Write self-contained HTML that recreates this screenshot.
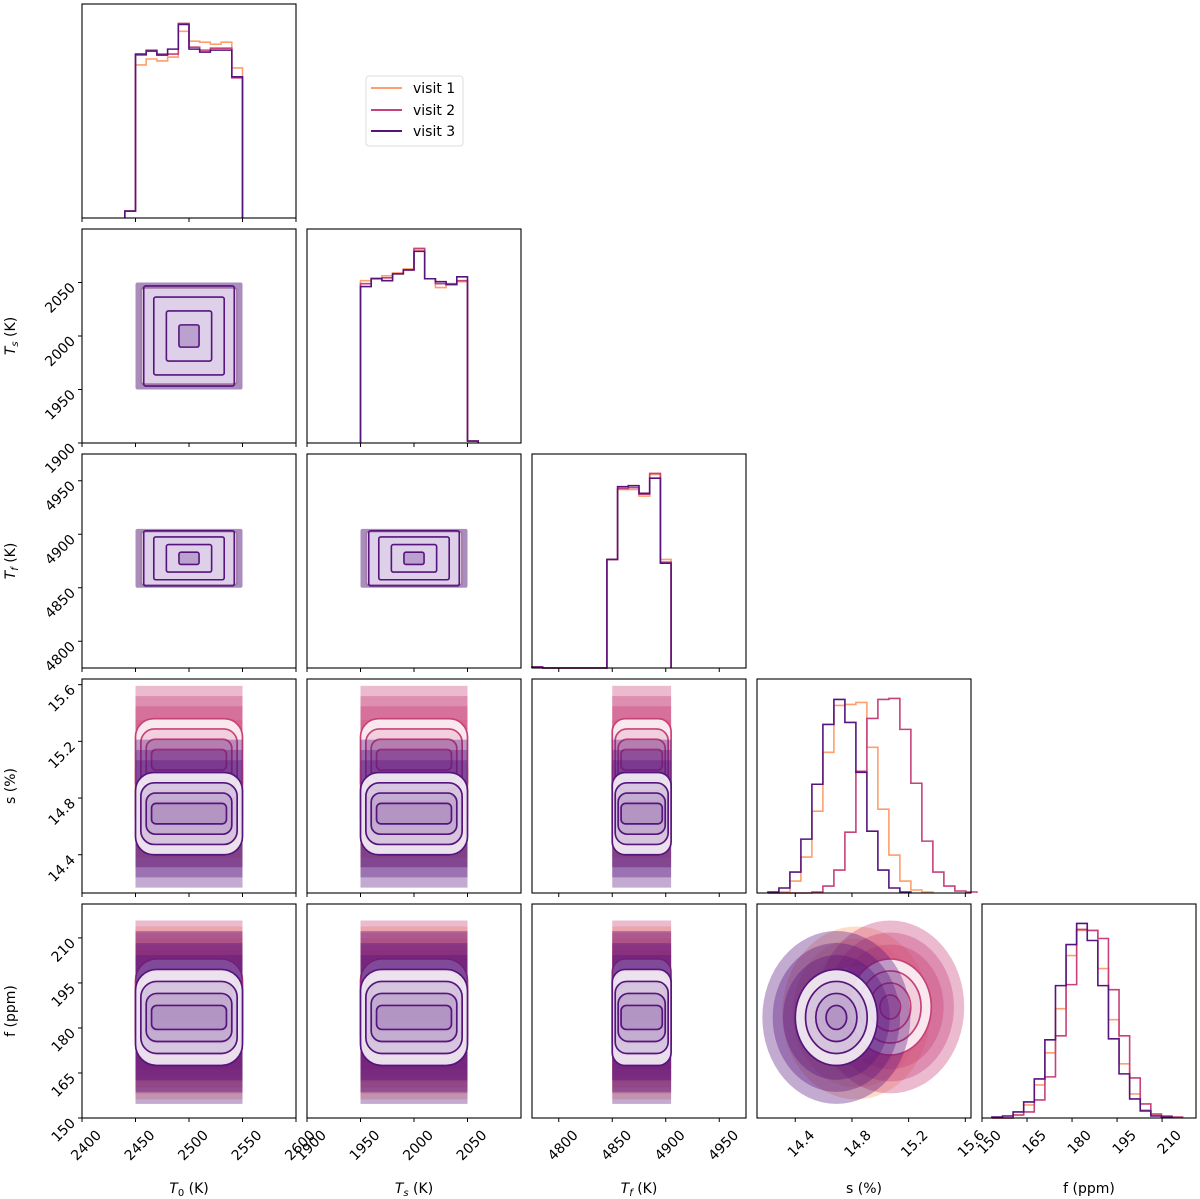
<!DOCTYPE html>
<html><head><meta charset="utf-8"><style>
html,body{margin:0;padding:0;background:#fff;}
svg{display:block;font-family:"DejaVu Sans","Liberation Sans",sans-serif;}
</style></head><body>
<svg id="fig" width="1200" height="1199" viewBox="0 0 1200 1199" xmlns="http://www.w3.org/2000/svg">
<defs id="defs"></defs>
<g id="legend">
  <rect x="366" y="76" width="97" height="70" rx="3" fill="#fff" stroke="#ddd" stroke-width="1"/>
  <line x1="371" y1="88" x2="402" y2="88" stroke="#fe9f6d" stroke-width="2"/>
  <text x="413" y="93" font-size="14">visit 1</text>
  <line x1="371" y1="110" x2="402" y2="110" stroke="#c7417b" stroke-width="2"/>
  <text x="413" y="115" font-size="14">visit 2</text>
  <line x1="371" y1="131" x2="402" y2="131" stroke="#56147d" stroke-width="2"/>
  <text x="413" y="136" font-size="14">visit 3</text>
</g>
</svg>
<script>
// ---- data ----
const visitNames = ['visit 1','visit 2','visit 3'];
const visitColors = ['#fe9f6d','#c7417b','#56147d'];
const varNames = ['T0','Ts','Tf','s','f'];
const rangeMin = [2400,1900,4775,14.13,150];
const rangeMax = [2600,2100,4975,15.64,221.3];
const ticksT0 = [2400,2450,2500,2550,2600];
const ticksTs = [1900,1950,2000,2050];
const ticksTf = [4800,4850,4900,4950];
const ticksS = [14.4,14.8,15.2,15.6];
const ticksF = [150,165,180,195,210];
// uniform priors (low, high)
const uniLow = [2450,1950,4850];
const uniHigh = [2550,2050,4905];
// gaussian posteriors per visit
const sMean = [14.83,15.07,14.69];
const sSigma = [0.145,0.145,0.145];
const fMean = [185,187,183.5];
const fSigma = [8.0,8.0,8.0];
// histograms: bin start, bin width, counts per visit
const histStart = [2440,1950,4775,14.207,153.3];
const histWidth = [10,10,10,0.0776,3.53];
const histT0 = [
  [7,155,161,159,163,189,179,178,176,178,152],
  [7,165,170,166,166,197,173,170,172,172,142],
  [7,166,169,165,171,196,171,168,170,170,143]];
const histTs = [
  [166,169,171,174,178,197,168,159,162,165,2],
  [163,168,169,173,177,199,168,163,163,166,2],
  [160,168,166,173,177,196,168,165,162,170,2]];
const histTf = [
  [1,0,0,0,0,0,0,115,189,189,182,205,115],
  [1,0,0,0,0,0,0,115,190,191,184,206,112],
  [1,0,0,0,0,0,0,115,192,193,185,201,111]];
const histS = [
  [0,1,12,36,82,141,188,189,191,146,84,38,12,3,1],
  [0,0,0,0,1,7,23,61,122,175,194,195,164,110,52,21,7,2,1],
  [1,5,21,54,109,169,194,171,121,62,23,5,1]];
const histF = [
  [0,0,3,13,33,65,109,162,187,187,149,98,54,24,8,3,1],
  [0,0,3,6,18,41,82,133,188,187,179,128,82,40,14,4,2,1],
  [1,2,6,16,39,78,132,173,194,177,132,79,44,19,7,2,1]];
const allHists = [histT0,histTs,histTf,histS,histF];
const allTicks = [ticksT0,ticksTs,ticksTf,ticksS,ticksF];

// ---- layout ----
const colX = [82,307,532,757,982], rowY = [4,229,454,679,904], P = 214;
const NS = 'http://www.w3.org/2000/svg';
const svg = document.getElementById('fig');
const defs = document.getElementById('defs');
function E(tag){ return document.createElementNS(NS, tag); }
function sx(v, j){ return colX[j] + (v - rangeMin[j])/(rangeMax[j]-rangeMin[j])*P; }
function sy(v, i){ return rowY[i] + P - (v - rangeMin[i])/(rangeMax[i]-rangeMin[i])*P; }
function fmt(v){ return Number.isInteger(v) ? String(v) : v.toFixed(1); }

// ---- diagonal histograms ----
for (let k=0;k<5;k++){
  const g = E('g');
  
  
  svg.appendChild(g);
  const h = allHists[k];
  let mx = 0; h.forEach(a=>a.forEach(c=>{ if(c>mx) mx=c; }));
  const ymax = mx*1.1;
  const base = rowY[k]+P;
  for (let v=0; v<3; v++){
    const counts = h[v];
    let d = '';
    for (let b=0;b<counts.length;b++){
      const x0 = sx(histStart[k]+b*histWidth[k], k), x1 = sx(histStart[k]+(b+1)*histWidth[k], k);
      const y = base - counts[b]/ymax*P;
      d += (b===0 ? 'M'+x0+','+base+' L'+x0+','+y : ' L'+x0+','+y) + ' L'+x1+','+y;
      if (b===counts.length-1) d += ' L'+x1+','+base;
    }
    const p = E('path');
    
    
    p.setAttribute('d', d);
    p.setAttribute('fill', 'none');
    p.setAttribute('stroke', visitColors[v]);
    p.setAttribute('stroke-width', '1.6');
    g.appendChild(p);
  }
}

// ---- 2D panels ----
function distOf(varIdx, v){
  if (varIdx<3) return {type:'u', lo:uniLow[varIdx], hi:uniHigh[varIdx]};
  if (varIdx===3) return {type:'g', mu:sMean[v], sd:sSigma[v]};
  return {type:'g', mu:fMean[v], sd:fSigma[v]};
}
function extent(dist, k, frac){
  if (dist.type==='u'){ const c=(dist.lo+dist.hi)/2, hw=(dist.hi-dist.lo)/2*frac; return [c-hw,c+hw]; }
  return [dist.mu-k*dist.sd, dist.mu+k*dist.sd];
}
let clipId = 0;
for (let i=1;i<5;i++){
  for (let j=0;j<i;j++){
    const cp = E('clipPath'); cp.setAttribute('id','c'+clipId);
    const cr = E('rect'); cr.setAttribute('x',colX[j]); cr.setAttribute('y',rowY[i]); cr.setAttribute('width',P); cr.setAttribute('height',P);
    cp.appendChild(cr); defs.appendChild(cp);
    const g = E('g');
    
    
    g.setAttribute('clip-path','url(#c'+clipId+')');
    clipId++;
    svg.appendChild(g);
    const bothU = (i<3 && j<3);
    for (let v=0; v<3; v++){
      const dx = distOf(j,v), dy = distOf(i,v);
      const col = visitColors[v];
      const shape = (xr, yr, fill, op, stroke, sw) => {
        const x0=sx(xr[0],j), x1=sx(xr[1],j), y0=sy(yr[1],i), y1=sy(yr[0],i);
        const w=x1-x0, h=y1-y0;
        let el;
        if (dx.type==='g' && dy.type==='g'){
          el = E('ellipse');
          el.setAttribute('cx',(x0+x1)/2); el.setAttribute('cy',(y0+y1)/2);
          el.setAttribute('rx',w/2); el.setAttribute('ry',h/2);
        } else {
          el = E('rect');
          el.setAttribute('x',x0); el.setAttribute('y',y0); el.setAttribute('width',w); el.setAttribute('height',h);
          const r = bothU ? 2 : Math.min(w,h)*0.22;
          el.setAttribute('rx', r);
        }
        el.setAttribute('fill', fill); el.setAttribute('fill-opacity', op);
        if (stroke){ el.setAttribute('stroke', stroke); el.setAttribute('stroke-width', sw); } else el.setAttribute('stroke','none');
        return el;
      };
      if (bothU){
        if (v===2){
          const bg = shape(extent(dx,0,1), extent(dy,0,1), '#9a7ab2', 0.85);
          
          
          g.appendChild(bg);
          const inner = shape(extent(dx,0,0.88), extent(dy,0,0.88), '#ddd0e8', 1);
          
          
          g.appendChild(inner);
        }
        [0.9,0.7,0.45,0.2].forEach((fr,li)=>{
          const c = shape(extent(dx,0,fr*(1-0.03*v)), extent(dy,0,fr*(1+0.02*v)), col, li===3?0.25:0, col, 1.6);
          
          
          g.appendChild(c);
        });
      } else {
        [3.6,3.1,2.6].forEach(k=>{
          const fx = dx.type==='u' ? extent(dx,k,1) : extent(dx,k);
          const fy = dy.type==='u' ? extent(dy,k,1) : extent(dy,k);
          const s = shape(fx, fy, col, 0.36);
          if (dx.type==='u' || dy.type==='u') s.setAttribute('rx', 0);
          
          
          g.appendChild(s);
        });
        const levels = [2.0,1.5,1.0,0.5];
        levels.forEach((k,li)=>{
          const fr = 1.0 - 0.1*li;
          const fx = dx.type==='u' ? extent(dx,k,fr) : extent(dx,k);
          const fy = dy.type==='u' ? extent(dy,k,fr) : extent(dy,k);
          const c = shape(fx, fy, li===0 ? '#ffffff' : col, li===0 ? 0.85 : 0.14, col, 1.7);
          
          
          g.appendChild(c);
        });
      }
    }
  }
}

// ---- frames, ticks, labels ----
for (let i=0;i<5;i++){
  for (let j=0;j<=i;j++){
    const fr = E('rect');
    
    
    fr.setAttribute('x',colX[j]); fr.setAttribute('y',rowY[i]); fr.setAttribute('width',P); fr.setAttribute('height',P);
    fr.setAttribute('fill','none'); fr.setAttribute('stroke','#000'); fr.setAttribute('stroke-width','1.1');
    svg.appendChild(fr);
    allTicks[j].forEach(t=>{
      const x = sx(t,j);
      const tk = E('line');
      
      
      tk.setAttribute('x1',x); tk.setAttribute('x2',x); tk.setAttribute('y1',rowY[i]+P); tk.setAttribute('y2',rowY[i]+P+4);
      tk.setAttribute('stroke','#000'); tk.setAttribute('stroke-width','1');
      svg.appendChild(tk);
      if (i===4){
        const tx = E('text');
        
        
        tx.setAttribute('font-size','14');
        tx.setAttribute('text-anchor','end');
        tx.setAttribute('transform','translate('+(x+20)+','+(rowY[i]+P+18)+') rotate(-45)');
        tx.textContent = fmt(t);
        svg.appendChild(tx);
      }
    });
    if (j===0 && i>0){
      allTicks[i].forEach(t=>{
        const y = sy(t,i);
        const tk = E('line');
        
        
        tk.setAttribute('x1',colX[0]-4); tk.setAttribute('x2',colX[0]); tk.setAttribute('y1',y); tk.setAttribute('y2',y);
        tk.setAttribute('stroke','#000'); tk.setAttribute('stroke-width','1');
        svg.appendChild(tk);
        const tx = E('text');
        
        
        tx.setAttribute('font-size','14');
        tx.setAttribute('text-anchor','end');
        tx.setAttribute('transform','translate('+(colX[0]-6)+','+(y+6)+') rotate(-45)');
        tx.textContent = fmt(t);
        svg.appendChild(tx);
      });
    }
  }
}
// axis titles
const xTitleHtml = ['<tspan font-style="italic">T</tspan><tspan font-size="10" dy="3">0</tspan><tspan dy="-3"> (K)</tspan>',
  '<tspan font-style="italic">T</tspan><tspan font-size="10" font-style="italic" dy="3">s</tspan><tspan dy="-3"> (K)</tspan>',
  '<tspan font-style="italic">T</tspan><tspan font-size="10" font-style="italic" dy="3">f</tspan><tspan dy="-3"> (K)</tspan>',
  's (%)','f (ppm)'];
for (let j=0;j<5;j++){
  const t = E('text');
  
  
  t.setAttribute('x', colX[j]+P/2); t.setAttribute('y', 1193);
  t.setAttribute('font-size','14'); t.setAttribute('text-anchor','middle');
  t.innerHTML = xTitleHtml[j];
  svg.appendChild(t);
}
for (let i=1;i<5;i++){
  const t = E('text');
  
  
  t.setAttribute('font-size','14'); t.setAttribute('text-anchor','middle');
  t.setAttribute('transform','translate(15,'+(rowY[i]+P/2)+') rotate(-90)');
  t.innerHTML = xTitleHtml[i];
  svg.appendChild(t);
}
svg.appendChild(document.getElementById('legend'));
</script>
</body></html>
